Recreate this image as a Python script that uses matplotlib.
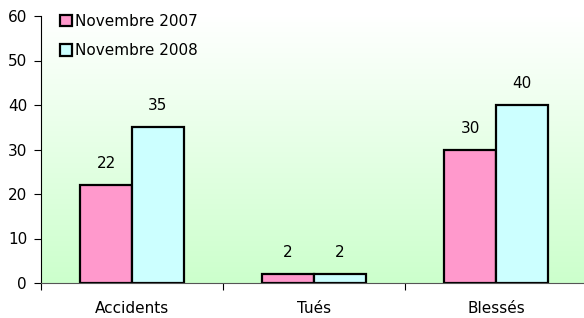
import matplotlib
matplotlib.use("Agg")
import matplotlib.pyplot as plt
import numpy as np
from matplotlib.patches import Patch
from matplotlib.colors import LinearSegmentedColormap

categories = ["Accidents", "Tués", "Blessés"]
series_names = ["Novembre 2007", "Novembre 2008"]
values_2007 = [22, 2, 30]
values_2008 = [35, 2, 40]
colors = ["#FF99CC", "#CCFFFF"]

plt.rcParams['font.family'] = ['DejaVu Sans']
fs = 11
fig = plt.figure(figsize=(5.84, 3.18), dpi=100)
ax = fig.add_axes([41/584, 35/318, 546/584, 267/318])

# gradient background
cmap = LinearSegmentedColormap.from_list("g", ["#CCFFCC", "#FFFFFF"])
grad = np.linspace(0, 1, 256).reshape(-1, 1)
ax.imshow(grad, aspect='auto', cmap=cmap, origin='lower',
          extent=[0, 1, 0, 1], transform=ax.transAxes, zorder=0)

x = np.arange(len(categories))
w = 0.285
b1 = ax.bar(x - w/2, values_2007, w, color=colors[0], edgecolor='black', linewidth=1.6, zorder=2)
b2 = ax.bar(x + w/2, values_2008, w, color=colors[1], edgecolor='black', linewidth=1.6, zorder=2)

for bars, vals in ((b1, values_2007), (b2, values_2008)):
    for r, v in zip(bars, vals):
        ax.annotate(str(v), (r.get_x() + r.get_width()/2, v), xytext=(0, 10),
                    textcoords='offset points', ha='center', va='bottom', fontsize=fs)

ax.set_xlim(-0.5, 2.5)
ax.set_ylim(0, 60)
ax.set_yticks(range(0, 61, 10))
ax.set_xticks([-0.5, 0.5, 1.5, 2.5])
ax.set_xticklabels([])
ax.set_xticks(x, minor=True)
ax.set_xticklabels(categories, minor=True, fontsize=fs)
ax.tick_params(axis='x', which='minor', length=0, pad=13)
ax.tick_params(axis='x', which='major', length=5, color='black', width=0.8)
ax.tick_params(axis='y', length=5, labelsize=fs, width=0.8, pad=5)
for s in ['top', 'right']:
    ax.spines[s].set_visible(False)
ax.spines['left'].set_color('black')
ax.spines['left'].set_linewidth(0.8)
ax.spines['bottom'].set_color('#555555')
ax.spines['bottom'].set_linewidth(0.8)

handles = [Patch(facecolor=c, edgecolor='black', linewidth=1.6) for c in colors]
leg = ax.legend(handles, series_names, loc='upper left', bbox_to_anchor=(0.01, 1.06),
                frameon=False, fontsize=fs, handlelength=0.8, handleheight=0.8,
                handletextpad=0.2, labelspacing=0.95)

fig.savefig("out.png", dpi=100)
